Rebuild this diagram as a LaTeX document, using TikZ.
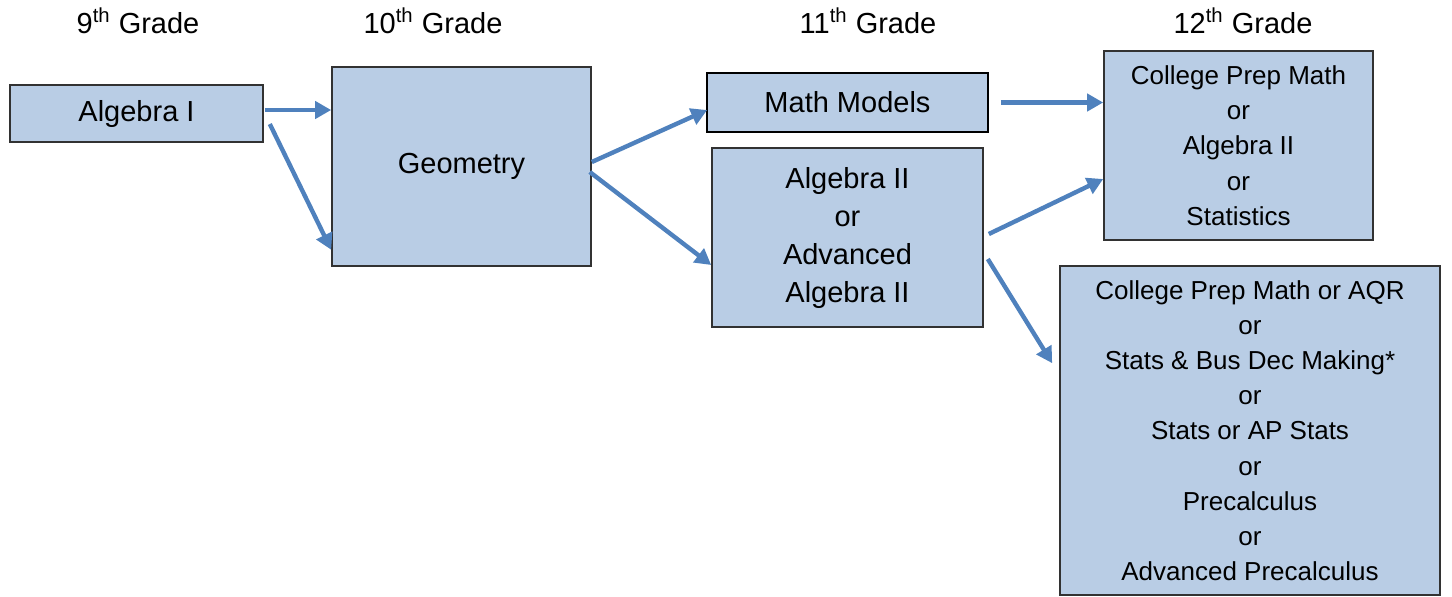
\documentclass[tikz,border=0pt]{standalone}
\usepackage{fontspec}
\setmainfont{Liberation Sans}
\usepackage{tikz}
\usetikzlibrary{calc,positioning,arrows.meta}
\usepackage{xcolor}
\definecolor{boxblue}{RGB}{185,205,229}
\definecolor{arrowblue}{RGB}{79,129,189}
\definecolor{boxline}{RGB}{50,50,50}

\begin{document}
\begin{tikzpicture}[x=0.5pt,y=-0.5pt,
  course/.style={draw=boxline, line width=0.8pt, fill=boxblue, align=center, inner sep=0pt,
    font=\fontsize{14.5}{19}\selectfont},
  senior/.style={course, font=\fontsize{13}{17.6}\selectfont},
  grade/.style={anchor=base, font=\fontsize{14.5}{17}\selectfont},
  flow/.style={draw=arrowblue, line width=2.2pt, -{Triangle[length=8pt,width=8.5pt]}}]
  \useasboundingbox (0,0) rectangle (1452,596);

  % Grade headings
  \node[grade] (g9) at (138,33) {9\textsuperscript{th} Grade};
  \node[grade] (g10) at (433,33) {10\textsuperscript{th} Grade};
  \node[grade] (g11) at (868,33) {11\textsuperscript{th} Grade};
  \node[grade] (g12) at (1243,33) {12\textsuperscript{th} Grade};

  % Courses
  \node[course, minimum width=126.5pt, minimum height=28.5pt] (alg1) at (136.5,113.5) {Algebra I};
  \node[course, minimum width=129.5pt, minimum height=99.5pt] (geom) at (461.5,166.5) {Geometry};
  \node[course, draw=black, minimum width=140.5pt, minimum height=29.5pt] (models) at (847.5,102.5) {Math Models};
  \node[course, minimum width=135.5pt, minimum height=89.5pt] (alg2) at (847.5,237.5) {Algebra II\\or\\Advanced\\Algebra II};
  \node[senior, minimum width=134.5pt, minimum height=94.5pt] (prep) at (1238.5,145.5) {College Prep Math\\or\\Algebra II\\or\\Statistics};
  \node[senior, minimum width=190pt, minimum height=164.5pt] (options) at (1250,430.5)
    {College Prep Math or AQR\\or\\Stats \& Bus Dec Making*\\or\\Stats or AP Stats\\or\\Precalculus\\or\\Advanced Precalculus};

  % Pathways
  \coordinate (a1) at ($(alg1.east)+(1,-3.5)$);
  \draw[flow] (a1) -- (a1 -| geom.west);
  \draw[flow] ($(alg1.east)+(6,10.5)$) -- ($(geom.south west)+(0,-17)$);
  \draw[flow] ($(geom.east)+(0,-4.5)$) -- ($(models.west)+(1,7.5)$);
  \draw[flow] ($(geom.east)+(-2,5.5)$) -- ($(alg2.west)+(0,27.5)$);
  \coordinate (m1) at ($(models.east)+(12,0)$);
  \draw[flow] (m1) -- (m1 -| prep.west);
  \draw[flow] ($(alg2.east)+(5,-3.5)$) -- ($(prep.west)+(0,33.5)$);
  \draw[flow] ($(alg2.east)+(4,21.5)$) -- ($(options.north west)+(-7,98)$);
\end{tikzpicture}
\end{document}
